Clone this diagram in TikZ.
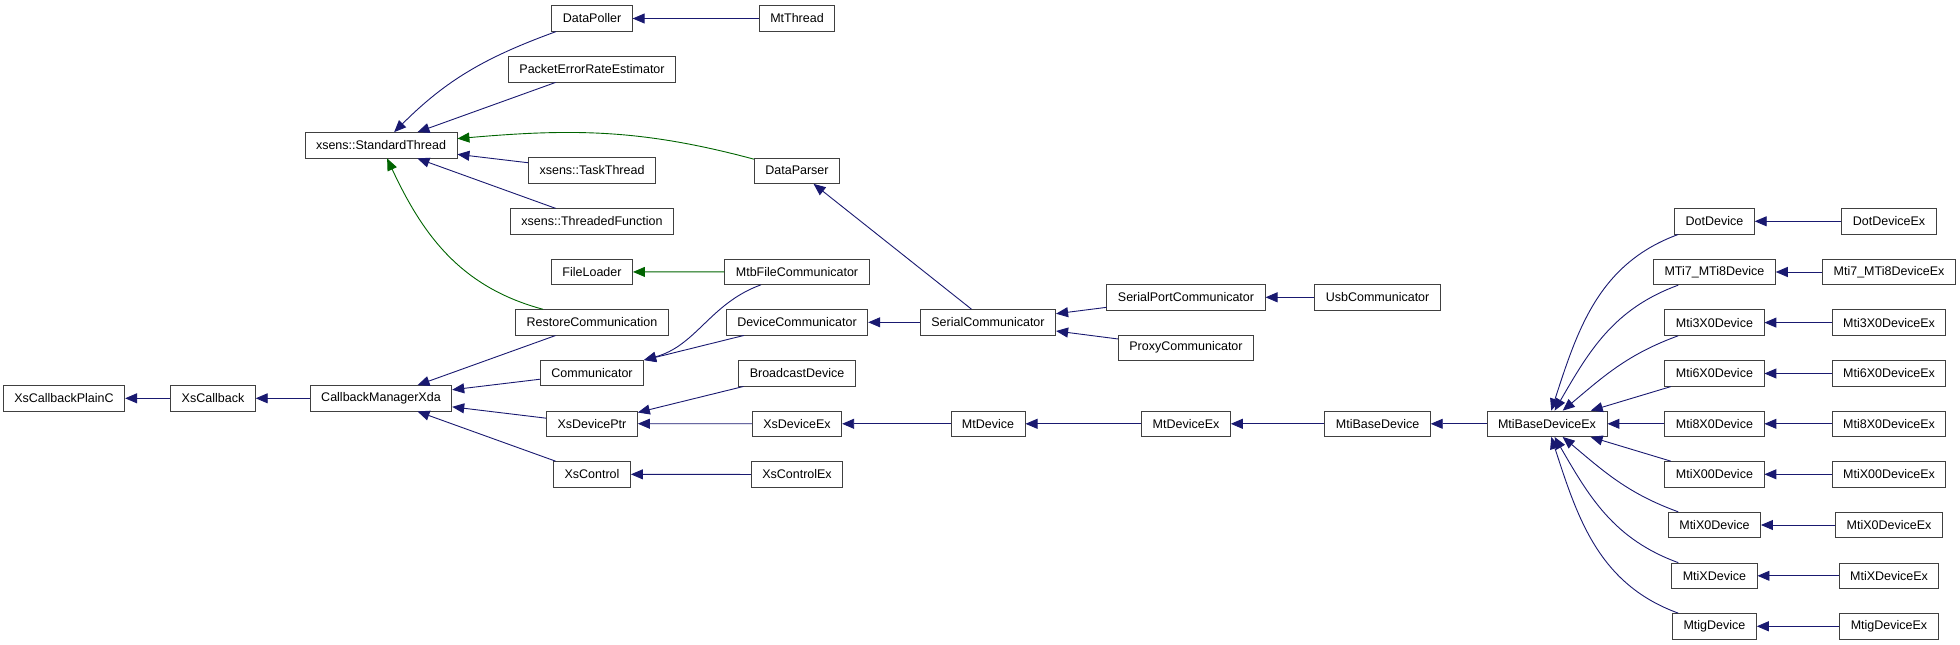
\documentclass[tikz,border=0pt]{standalone}
\usepackage{fontspec}
\setmainfont{Liberation Sans}
\usetikzlibrary{arrows.meta}
\definecolor{edgeblue}{HTML}{191970}
\definecolor{edgegreen}{HTML}{006400}
\tikzset{
  cls/.style={draw=black!75, line width=0.9pt, fill=white, inner xsep=11pt, inner ysep=0pt,
    minimum height=25.4pt, font=\fontsize{12.5}{14}\selectfont},
  inh/.style={edgeblue, line width=0.9pt, -{Triangle[length=12pt,width=10pt]}},
  prot/.style={inh, edgegreen},
}
\begin{document}
\begin{tikzpicture}[x=1pt, y=-1pt]
    \useasboundingbox (0,0) rectangle (1960,645);

    % Callbacks
    \node[cls] (xscbc) at (64,398.3) {XsCallbackPlainC};
    \node[cls] (xscb) at (213,398.3) {XsCallback};
    \node[cls] (cbmx) at (381,398.3) {CallbackManagerXda};
    \node[cls] (stdthr) at (381,145.3) {xsens::StandardThread};

    % Second column
    \node[cls] (poller) at (592,18.5) {DataPoller};
    \node[cls] (perest) at (592,69.3) {PacketErrorRateEstimator};
    \node[cls] (taskthr) at (592,170.3) {xsens::TaskThread};
    \node[cls] (thrfun) at (592,221.5) {xsens::ThreadedFunction};
    \node[cls] (fileld) at (592,272) {FileLoader};
    \node[cls] (restcom) at (592,322.4) {RestoreCommunication};
    \node[cls] (comm) at (592,373) {Communicator};
    \node[cls] (devptr) at (592,423.7) {XsDevicePtr};
    \node[cls] (ctrl) at (592,474.3) {XsControl};

    % Third column
    \node[cls] (mtthr) at (797,18.5) {MtThread};
    \node[cls] (parser) at (797,170.7) {DataParser};
    \node[cls] (mtbfile) at (797,271.7) {MtbFileCommunicator};
    \node[cls] (devcom) at (797,322.3) {DeviceCommunicator};
    \node[cls] (bcast) at (797,373.3) {BroadcastDevice};
    \node[cls] (devex) at (797,423.8) {XsDeviceEx};
    \node[cls] (ctrlex) at (797,474.5) {XsControlEx};

    % Communicators and device chain
    \node[cls] (sercom) at (988,322.3) {SerialCommunicator};
    \node[cls] (mtdev) at (988,423.8) {MtDevice};
    \node[cls] (portcom) at (1186,297.3) {SerialPortCommunicator};
    \node[cls] (proxy) at (1186,347.7) {ProxyCommunicator};
    \node[cls] (mtdevex) at (1186,423.8) {MtDeviceEx};
    \node[cls] (usbcom) at (1377.6,297.3) {UsbCommunicator};
    \node[cls] (mtibase) at (1377.6,423.8) {MtiBaseDevice};
    \node[cls] (mtibex) at (1547,423.8) {MtiBaseDeviceEx};

    % Device classes
    \foreach \nm/\lbl/\lblex/\y in {dot/DotDevice/DotDeviceEx/221.3,
        mti7/MTi7\_MTi8Device/Mti7\_MTi8DeviceEx/272, mti3/Mti3X0Device/Mti3X0DeviceEx/322.6,
        mti6/Mti6X0Device/Mti6X0DeviceEx/373.5, mti8/Mti8X0Device/Mti8X0DeviceEx/423.8,
        mtix00/MtiX00Device/MtiX00DeviceEx/474.3, mtix0/MtiX0Device/MtiX0DeviceEx/525,
        mtix/MtiXDevice/MtiXDeviceEx/575.8, mtig/MtigDevice/MtigDeviceEx/626.3}
    {
        \node[cls] (\nm) at (1714.4,\y) {\lbl};
        \node[cls] (\nm ex) at (1889,\y) {\lblex};
        \draw[inh] (\nm ex) -- (\nm);
    }

    % Callback edges
    \draw[inh] (xscb) -- (xscbc);
    \draw[inh] (cbmx) -- (xscb);
    \foreach \c in {restcom, comm, devptr, ctrl}
        \draw[inh] (\c) -- (cbmx);

    % Thread edges
    \draw[inh] (poller) to[out=200, in=45] (stdthr);
    \draw[inh] (perest) -- (stdthr);
    \draw[prot] (parser) to[out=165, in=5] (stdthr);
    \draw[inh] (taskthr) -- (stdthr);
    \draw[inh] (thrfun) -- (stdthr);
    \draw[prot] (restcom) to[out=165, in=-65] (stdthr);
    \draw[inh] (mtthr) -- (poller);

    % Communicator edges
    \draw[prot] (mtbfile) -- (fileld);
    \draw[inh] (mtbfile) to[out=200, in=15] (comm.north east);
    \draw[inh] (devcom) -- (comm);
    \draw[inh] (sercom) -- (devcom);
    \draw[inh] (sercom) -- (parser);
    \draw[inh] (portcom) -- (sercom);
    \draw[inh] (proxy) -- (sercom);
    \draw[inh] (usbcom) -- (portcom);

    % Device edges
    \draw[inh] (bcast) -- (devptr);
    \draw[inh] (devex) -- (devptr);
    \draw[inh] (mtdev) -- (devex);
    \draw[inh] (mtdevex) -- (mtdev);
    \draw[inh] (mtibase) -- (mtdevex);
    \draw[inh] (mtibex) -- (mtibase);
    \draw[inh] (ctrlex) -- (ctrl);
    \foreach \nm/\o/\i in {dot/200/72, mti7/200/60, mti3/200/40, mtix0/160/-40, mtix/160/-60, mtig/160/-72}
        \draw[inh] (\nm) to[out=\o, in=\i] (mtibex);
    \foreach \nm in {mti6, mti8, mtix00}
        \draw[inh] (\nm) -- (mtibex);
\end{tikzpicture}
\end{document}
